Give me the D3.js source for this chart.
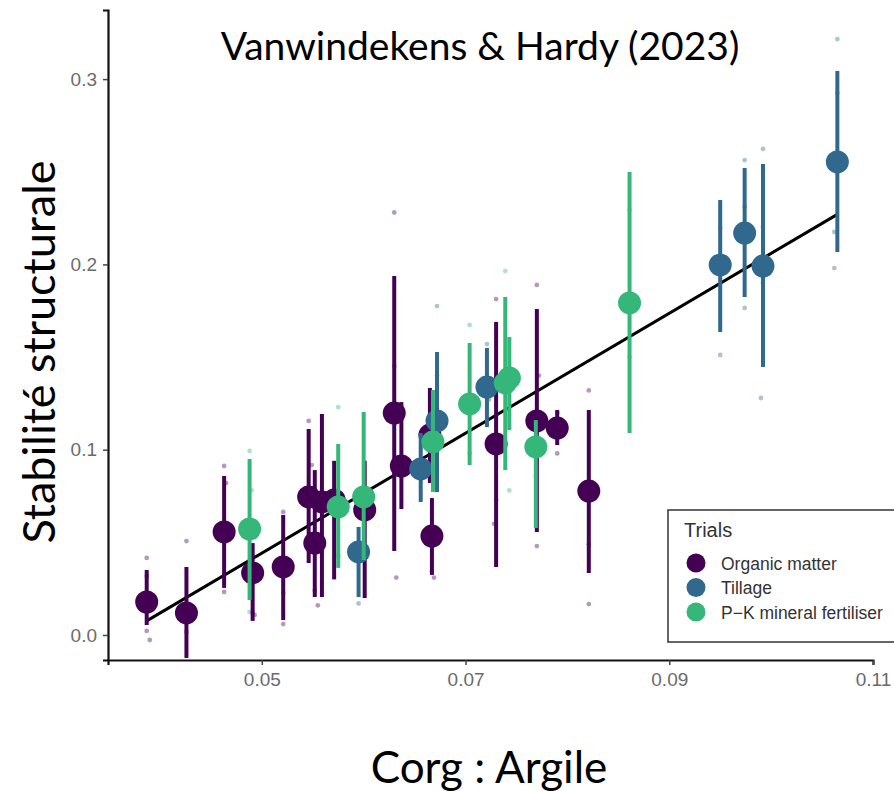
<!DOCTYPE html>
<html>
<head>
<meta charset="utf-8">
<script src="https://cdn.jsdelivr.net/npm/d3@7"></script>
<style>
  html, body { margin: 0; padding: 0; background: #fff; }
  svg { display: block; }
</style>
</head>
<body>
<div id="chart"></div>
<script>
// Trials (legend order) and their colours
var trials = ['Organic matter', 'Tillage', 'P\u2212K mineral fertiliser'];
var trialColors = ['#440154', '#30688e', '#35b779'];

// Treatment means: [Corg:Argile, stability, lower, upper]
var organicMeans = [
  [0.0387, 0.0178, 0.0054, 0.0351],
  [0.0426, 0.0119, -0.0124, 0.0367],
  [0.0463, 0.0556, 0.0254, 0.0858],
  [0.0491, 0.0335, 0.0076, 0.0496],
  [0.0521, 0.0367, 0.0081, 0.0648],
  [0.0546, 0.0745, 0.0389, 0.1112],
  [0.0552, 0.0496, 0.0205, 0.0890],
  [0.0559, 0.0718, 0.0205, 0.1193],
  [0.0571, 0.0729, 0.0300, 0.0940],
  [0.0601, 0.0675, 0.0200, 0.0940],
  [0.0630, 0.1198, 0.0453, 0.1937],
  [0.0637, 0.0912, 0.0680, 0.1257],
  [0.0665, 0.1079, 0.0820, 0.1333],
  [0.0667, 0.0534, 0.0324, 0.0739],
  [0.0730, 0.1031, 0.0367, 0.1689],
  [0.0770, 0.1155, 0.0556, 0.1759],
  [0.0790, 0.1117, 0.1025, 0.1214],
  [0.0821, 0.0777, 0.0335, 0.1214]
];
var tillageMeans = [
  [0.0595, 0.0448, 0.0205, 0.0583],
  [0.0656, 0.0896, 0.0718, 0.1090],
  [0.0672, 0.1155, 0.0772, 0.1527],
  [0.0721, 0.1338, 0.1122, 0.1549],
  [0.0950, 0.1997, 0.1635, 0.2348],
  [0.0974, 0.2169, 0.1824, 0.2520],
  [0.0992, 0.1991, 0.1446, 0.2542],
  [0.1065, 0.2553, 0.2067, 0.3044]
];
var pkMeans = [
  [0.0488, 0.0572, 0.0189, 0.0950],
  [0.0575, 0.0691, 0.0362, 0.1031],
  [0.0600, 0.0745, 0.0405, 0.1203],
  [0.0668, 0.1042, 0.0772, 0.1322],
  [0.0704, 0.1247, 0.0917, 0.1576],
  [0.0739, 0.1360, 0.0890, 0.1824],
  [0.0743, 0.1387, 0.1106, 0.1608],
  [0.0769, 0.1015, 0.0577, 0.1160],
  [0.0861, 0.1792, 0.1090, 0.2499]
];

// Individual plot observations: [Corg:Argile, stability]
var organicRaw = [
  [0.0387, 0.0416], [0.0387, 0.0318], [0.0387, 0.0022], [0.0390, -0.0027],
  [0.0426, 0.0507], [0.0426, 0.0016],
  [0.0463, 0.0912], [0.0465, 0.0820], [0.0463, 0.0232],
  [0.0491, 0.0119], [0.0493, 0.0108],
  [0.0521, 0.0664], [0.0521, 0.0227], [0.0521, 0.0059],
  [0.0546, 0.1155], [0.0549, 0.0917],
  [0.0552, 0.0240], [0.0555, 0.0160],
  [0.0630, 0.2280], [0.0630, 0.1450], [0.0632, 0.0310],
  [0.0667, 0.0345], [0.0669, 0.0310],
  [0.0730, 0.1813], [0.0730, 0.0729], [0.0728, 0.0600],
  [0.0770, 0.1889], [0.0772, 0.1400], [0.0770, 0.0480],
  [0.0790, 0.1200], [0.0790, 0.0980],
  [0.0821, 0.1320], [0.0821, 0.0490], [0.0821, 0.0167]
];
var tillageRaw = [
  [0.0595, 0.0170], [0.0597, 0.0630],
  [0.0672, 0.1775], [0.0672, 0.1400],
  [0.0721, 0.1570], [0.0723, 0.1270],
  [0.0950, 0.2196], [0.0950, 0.1511],
  [0.0974, 0.2563], [0.0974, 0.2310], [0.0974, 0.1765],
  [0.0992, 0.2623], [0.0992, 0.2202], [0.0992, 0.1900], [0.0990, 0.1279],
  [0.1065, 0.3216], [0.1065, 0.2925], [0.1062, 0.2175], [0.1062, 0.1980]
];
var pkRaw = [
  [0.0488, 0.0993], [0.0490, 0.0780], [0.0488, 0.0125],
  [0.0575, 0.1230], [0.0575, 0.0430],
  [0.0704, 0.1673], [0.0704, 0.0980],
  [0.0739, 0.1964], [0.0743, 0.0780],
  [0.0769, 0.0860],
  [0.0861, 0.2294], [0.0861, 0.1500]
];

// Fitted regression line end points
var fitX = [0.0387, 0.1065];
var fitY = [0.0076, 0.2270];

var xTicks = [0.05, 0.07, 0.09, 0.11];
var yTicks = [0.0, 0.1, 0.2, 0.3];

var W = 894, H = 791;
var svg = d3.select('#chart').append('svg').attr('width', W).attr('height', H);

var x = d3.scaleLinear().domain([0.0349, 0.11]).range([108, 873]);
var y = d3.scaleLinear().domain([-0.0135, 0.3373]).range([660, 10]);

var groups = [
  { name: trials[0], color: trialColors[0], means: organicMeans, raw: organicRaw },
  { name: trials[1], color: trialColors[1], means: tillageMeans, raw: tillageRaw },
  { name: trials[2], color: trialColors[2], means: pkMeans, raw: pkRaw }
];

// raw observations, faint
groups.forEach(function (g) {
  svg.append('g').selectAll('circle').data(g.raw).enter().append('circle')
    .attr('cx', function (d) { return x(d[0]); })
    .attr('cy', function (d) { return y(d[1]); })
    .attr('r', 2.4)
    .attr('fill', g.color)
    .attr('opacity', 0.4);
});

// regression line
svg.append('line')
  .attr('x1', x(fitX[0])).attr('y1', y(fitY[0]))
  .attr('x2', x(fitX[1])).attr('y2', y(fitY[1]))
  .attr('stroke', '#000').attr('stroke-width', 3);

// error bars + means, drawn group after group
groups.forEach(function (g) {
  var gg = svg.append('g');
  gg.selectAll('line').data(g.means).enter().append('line')
    .attr('x1', function (d) { return x(d[0]); })
    .attr('x2', function (d) { return x(d[0]); })
    .attr('y1', function (d) { return y(d[2]); })
    .attr('y2', function (d) { return y(d[3]); })
    .attr('stroke', g.color).attr('stroke-width', 4);
  gg.selectAll('circle').data(g.means).enter().append('circle')
    .attr('cx', function (d) { return x(d[0]); })
    .attr('cy', function (d) { return y(d[1]); })
    .attr('r', 11.5)
    .attr('fill', g.color);
});

// axes
var axFont = '"Liberation Sans", Arial, sans-serif';
var xAxis = svg.append('g').attr('transform', 'translate(0,660)')
  .call(d3.axisBottom(x).tickValues(xTicks).tickSize(5).tickPadding(8)
    .tickFormat(function (d) { return d3.format('.2f')(d); }));
var yAxis = svg.append('g').attr('transform', 'translate(108,0)')
  .call(d3.axisLeft(y).tickValues(yTicks).tickSize(5).tickPadding(6)
    .tickFormat(d3.format('.1f')));
[xAxis, yAxis].forEach(function (a) {
  a.attr('font-family', axFont).attr('font-size', 19);
  a.select('.domain').attr('stroke', '#111').attr('stroke-width', 2.2);
  a.selectAll('.tick line').attr('stroke', '#444').attr('stroke-width', 1.5);
  a.selectAll('.tick text').attr('fill', '#6b6b6b');
});

// legend
var lg = svg.append('g').attr('transform', 'translate(668,510)');
lg.append('rect').attr('x', 0).attr('y', 0).attr('width', 240).attr('height', 132)
  .attr('fill', '#fff').attr('stroke', '#333').attr('stroke-width', 1.5);
lg.append('text').attr('x', 16).attr('y', 27).text('Trials')
  .attr('font-family', axFont).attr('font-size', 20).attr('fill', '#333');
var items = lg.selectAll('g.item').data(groups).enter().append('g')
  .attr('transform', function (d, i) { return 'translate(0,' + (53 + i * 24.5) + ')'; });
items.append('circle').attr('cx', 28).attr('cy', 0).attr('r', 9.5).attr('fill', function (d) { return d.color; });
items.append('text').attr('x', 53).attr('y', 6.5).text(function (d) { return d.name; })
  .attr('font-family', axFont).attr('font-size', 17.5).attr('fill', '#333');

// titles
var font = 'Lato, "Open Sans", sans-serif';
svg.append('text').attr('x', 480).attr('y', 60).attr('text-anchor', 'middle')
  .attr('font-family', font).attr('font-size', 39).attr('fill', '#000')
  .text('Vanwindekens & Hardy (2023)');
svg.append('text').attr('x', 489).attr('y', 783).attr('text-anchor', 'middle')
  .attr('font-family', font).attr('font-size', 44).attr('fill', '#000')
  .text('Corg : Argile');
svg.append('text').attr('transform', 'translate(55,352) rotate(-90)').attr('text-anchor', 'middle')
  .attr('font-family', font).attr('font-size', 45).attr('fill', '#000')
  .text('Stabilité structurale');
</script>
</body>
</html>
